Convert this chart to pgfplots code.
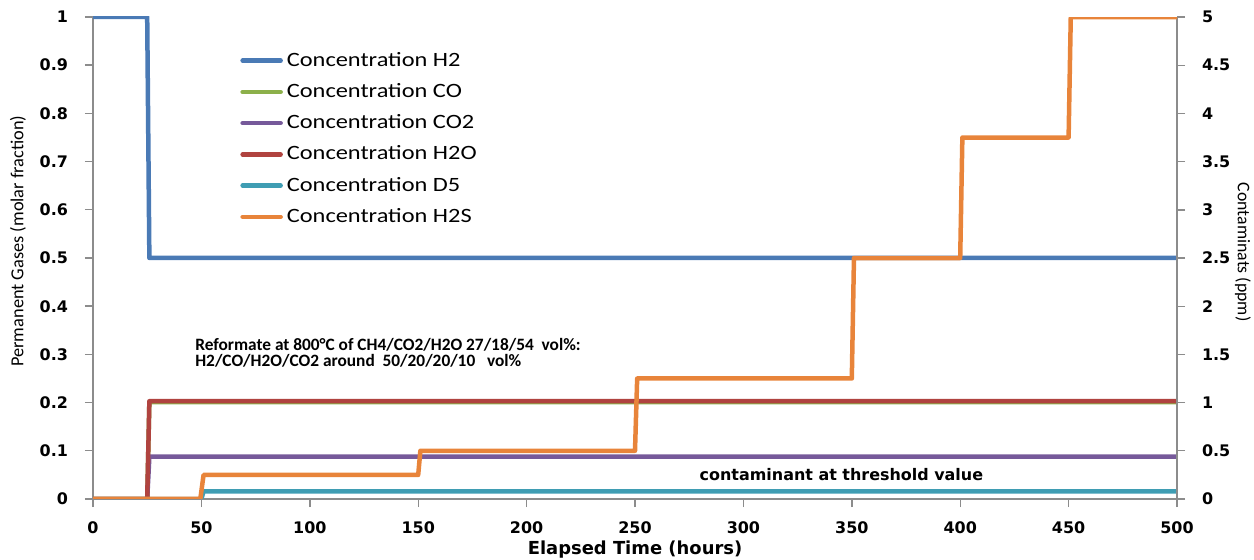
\documentclass[border=0pt]{standalone}
\usepackage{fontspec}
\usepackage{pgfplots}
\pgfplotsset{compat=1.18}
\newfontfamily\dv{DejaVu Sans}
\newfontfamily\carl{Carlito}
\newfontfamily\carlw{Carlito}[FakeStretch=1.2]
\definecolor{cH2}{HTML}{4A7AB5}
\definecolor{cCO}{HTML}{8CB04A}
\definecolor{cCO2}{HTML}{76599A}
\definecolor{cH2O}{HTML}{B0433F}
\definecolor{cD5}{HTML}{3F9DB3}
\definecolor{cH2S}{HTML}{E8843A}
\definecolor{axgray}{HTML}{8C8C8C}
\pgfplotsset{
  common/.style={
    at={(46.5bp,30.5bp)}, anchor=south west, scale only axis,
    width=542bp, height=241bp, xmin=0, xmax=500,
    tick align=outside, major tick length=4bp,
    axis line style={-, color=axgray, line width=0.8bp},
    tick style={color=axgray, line width=0.7bp},
    tick label style={font=\dv\bfseries\fontsize{8}{9}\selectfont},
    /pgf/number format/assume math mode=true,
    every axis plot/.append style={line width=2.25bp, line join=round, line cap=round},
  }
}
\begin{document}
\begin{tikzpicture}
\begin{axis}[common,
  ymin=0, ymax=1,
  axis x line*=bottom, axis y line*=left,
  xtick={0,50,100,150,200,250,300,350,400,450,500},
  ytick={0,0.1,0.2,0.3,0.4,0.5,0.6,0.7,0.8,0.9,1},
  yticklabel style={/pgf/number format/fixed, /pgf/number format/precision=1, xshift=-5bp},
  xticklabel style={yshift=-4bp},
  xlabel={Elapsed Time (hours)},
  xlabel style={font=\dv\bfseries\fontsize{9}{10}\selectfont, at={(axis description cs:0.5,0)}, anchor=center, yshift=-25.5bp},
  ylabel={Permanent Gases (molar fraction)},
  every axis y label/.style={font=\carl\fontsize{9.2}{10}\selectfont, at={(axis description cs:0,0.535)}, anchor=center, xshift=-37.5bp, rotate=90},
  legend style={at={(axis cs:67.8,0.936)}, anchor=north west, draw=none, fill=none,
    font=\carlw\fontsize{10.2}{12}\selectfont, inner sep=0pt, row sep=3.1bp},
  legend cell align=left,
  legend image code/.code={\draw[#1, line cap=round, line width=2.25bp] (0bp,0bp) -- (19bp,0bp);},
]
\addplot[cH2] coordinates {(0,1) (25,1) (26,0.5) (500,0.5)};
\addlegendentry{Concentration H2}
\addplot[cCO] coordinates {(0,0) (25,0) (26,0.201) (500,0.201)};
\addlegendentry{Concentration CO}
\addplot[cCO2] coordinates {(0,0) (25,0) (26,0.088) (500,0.088)};
\addlegendentry{Concentration CO2}
\addplot[cH2O] coordinates {(0,0) (25,0) (26,0.203) (500,0.203)};
\addlegendentry{Concentration H2O}
\addplot[cD5] coordinates {(0,0) (50,0) (51,0.016) (500,0.016)};
\addlegendentry{Concentration D5}
\addlegendimage{cH2S}
\addlegendentry{Concentration H2S}
\node[font=\carl\bfseries\fontsize{8.7}{9}\selectfont, anchor=base west, inner sep=0pt] at (axis cs:47,0.309) {Reformate at 800°C of CH4/CO2/H2O 27/18/54\ \ vol\%:};
\node[font=\carl\bfseries\fontsize{8.7}{9}\selectfont, anchor=base west, inner sep=0pt] at (axis cs:47,0.2745) {H2/CO/H2O/CO2 around\ \ 50/20/20/10\ \ \ vol\%};
\node[font=\dv\bfseries\fontsize{8}{9}\selectfont, anchor=base, inner sep=0pt] at (axis cs:345.2,0.038) {contaminant at threshold value};
\end{axis}
\begin{axis}[common,
  ymin=0, ymax=5,
  axis x line=none, axis y line*=right,
  ytick={0,0.5,1,1.5,2,2.5,3,3.5,4,4.5,5},
  yticklabel style={xshift=5bp},
  ylabel={Contaminats (ppm)},
  every axis y label/.style={font=\carl\fontsize{8.9}{10}\selectfont, at={(axis description cs:1,0.512)}, anchor=center, xshift=33bp, rotate=-90},
]
\addplot[cH2S] coordinates {(0,0) (49.5,0) (51,0.25) (150,0.25) (151,0.5) (250,0.5) (251,1.25) (350,1.25) (351,2.5) (400,2.5) (401,3.75) (450,3.75) (451,5) (500,5)};
\end{axis}
\pgfresetboundingbox
\path[use as bounding box] (0,0) rectangle (627bp,280bp);
\end{tikzpicture}
\end{document}
